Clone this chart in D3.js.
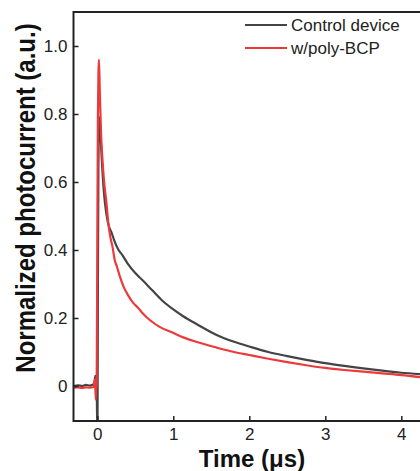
<!DOCTYPE html>
<html>
<head>
<meta charset="utf-8">
<script src="https://cdn.jsdelivr.net/npm/d3@7"></script>
<style>
body { margin: 0; background: #fff; }
text { font-family: "Liberation Sans", Arial, sans-serif; }
</style>
</head>
<body>
<div id="chart-area"></div>
<script>
const width = 420;
const height = 471;
const margin = {top: 12, right: 0, bottom: 50, left: 73.5};

// control device trace (time in us, normalized photocurrent)
const controlTime = [-0.313, -0.25, -0.2, -0.15, -0.1, -0.06, -0.04, -0.025, -0.015, -0.008, 0.0, 0.003, 0.008, 0.015, 0.026, 0.035, 0.058, 0.08, 0.1, 0.14, 0.19, 0.22, 0.28, 0.33, 0.4, 0.5, 0.6, 0.72, 0.85, 1.0, 1.13, 1.3, 1.57, 1.8, 2.0, 2.25, 2.5, 2.75, 3.0, 3.25, 3.5, 3.75, 4.0, 4.246];
const controlValue = [0.0, 0.002, 0.0, 0.003, 0.001, 0.004, 0.008, 0.03, 0.02, 0.0, -0.13, -0.13, 0.3, 0.65, 0.79, 0.77, 0.67, 0.59, 0.54, 0.48, 0.45, 0.43, 0.40, 0.385, 0.36, 0.332, 0.31, 0.282, 0.252, 0.225, 0.205, 0.183, 0.15, 0.13, 0.116, 0.1, 0.088, 0.077, 0.067, 0.059, 0.052, 0.045, 0.039, 0.035];

// w/poly-BCP trace
const bcpTime = [-0.313, -0.25, -0.2, -0.15, -0.1, -0.05, -0.03, -0.02, -0.012, -0.008, 0.0, 0.008, 0.015, 0.022, 0.035, 0.05, 0.07, 0.09, 0.12, 0.145, 0.17, 0.2, 0.23, 0.26, 0.3, 0.35, 0.41, 0.47, 0.54, 0.6, 0.69, 0.82, 1.0, 1.13, 1.3, 1.57, 1.8, 2.0, 2.25, 2.5, 2.75, 3.0, 3.25, 3.5, 3.75, 4.0, 4.246];
const bcpValue = [-0.005, -0.004, -0.006, -0.004, -0.005, -0.003, 0.02, -0.04, 0.01, 0.0, 0.42, 0.79, 0.92, 0.96, 0.85, 0.74, 0.66, 0.6, 0.54, 0.48, 0.44, 0.41, 0.37, 0.35, 0.32, 0.29, 0.265, 0.245, 0.229, 0.213, 0.194, 0.174, 0.156, 0.143, 0.13, 0.113, 0.1, 0.091, 0.08, 0.07, 0.061, 0.053, 0.047, 0.042, 0.037, 0.032, 0.026];

const xTicks = [0, 1, 2, 3, 4];
const yTicks = [0, 0.2, 0.4, 0.6, 0.8, 1.0];
const seriesNames = ["Control device", "w/poly-BCP"];
const seriesColors = ["#444444", "#ec3a3c"];

var svg = d3.select("#chart-area").append("svg")
	.attr("width", width)
	.attr("height", height);

var x = d3.scaleLinear()
	.domain([-0.313, 4.246])
	.range([margin.left, width - margin.right]);

var y = d3.scaleLinear()
	.domain([-0.103, 1.1])
	.range([height - margin.bottom, margin.top]);

svg.append("clipPath")
	.attr("id", "plot-clip")
	.append("rect")
	.attr("x", margin.left)
	.attr("y", margin.top)
	.attr("width", width - margin.left)
	.attr("height", height - margin.bottom - margin.top);

var line = d3.line()
	.curve(d3.curveMonotoneX)
	.x(d => x(d[0]))
	.y(d => y(d[1]));

var series = [
	d3.zip(controlTime, controlValue),
	d3.zip(bcpTime, bcpValue)
];

// control first, red drawn on top
series.forEach(function(s, i) {
	svg.append("path")
		.datum(s)
		.attr("clip-path", "url(#plot-clip)")
		.attr("fill", "none")
		.attr("stroke", seriesColors[i])
		.attr("stroke-width", 2.2)
		.attr("stroke-linejoin", "round")
		.attr("d", line);
});

// axes, ticks inward
var xAxis = svg.append("g")
	.attr("transform", `translate(0,${height - margin.bottom})`)
	.call(d3.axisBottom(x).tickValues(xTicks).tickSizeInner(-5).tickSizeOuter(0).tickPadding(7)
		.tickFormat(d3.format("d")));

var yAxis = svg.append("g")
	.attr("transform", `translate(${margin.left},0)`)
	.call(d3.axisLeft(y).tickValues(yTicks).tickSizeInner(-5).tickSizeOuter(0).tickPadding(6)
		.tickFormat(d => d === 0 ? "0" : d3.format(".1f")(d)));

[xAxis, yAxis].forEach(function(g) {
	g.select(".domain").remove();
	g.selectAll("line").attr("stroke", "#222").attr("stroke-width", 1.5);
	g.selectAll("text")
		.attr("fill", "#222")
		.style("font-size", "17px")
		.style("font-family", "'Liberation Sans', Arial, sans-serif");
});

// frame: top, left, bottom (right side runs off the picture)
svg.append("path")
	.attr("d", `M${width + 2},${margin.top}H${margin.left}V${height - margin.bottom}H${width + 2}`)
	.attr("fill", "none")
	.attr("stroke", "#222")
	.attr("stroke-width", 2);

// legend
var legend = svg.append("g");
seriesNames.forEach(function(name, i) {
	var ly = 25 + i * 23;
	legend.append("line")
		.attr("x1", 245).attr("x2", 287)
		.attr("y1", ly).attr("y2", ly)
		.attr("stroke", seriesColors[i])
		.attr("stroke-width", 2);
	legend.append("text")
		.attr("x", 291)
		.attr("y", ly + 6)
		.attr("fill", "#222")
		.style("font-size", "17px")
		.text(name);
});

// axis titles
svg.append("text")
	.attr("x", 252)
	.attr("y", 467)
	.attr("text-anchor", "middle")
	.attr("fill", "#111")
	.style("font-size", "24px")
	.style("font-weight", "bold")
	.text("Time (μs)");

svg.append("text")
	.attr("transform", "translate(35,198) rotate(-90) scale(1,1.15)")
	.attr("text-anchor", "middle")
	.attr("fill", "#111")
	.style("font-size", "24px")
	.style("font-weight", "bold")
	.text("Normalized photocurrent (a.u.)");
</script>
</body>
</html>
